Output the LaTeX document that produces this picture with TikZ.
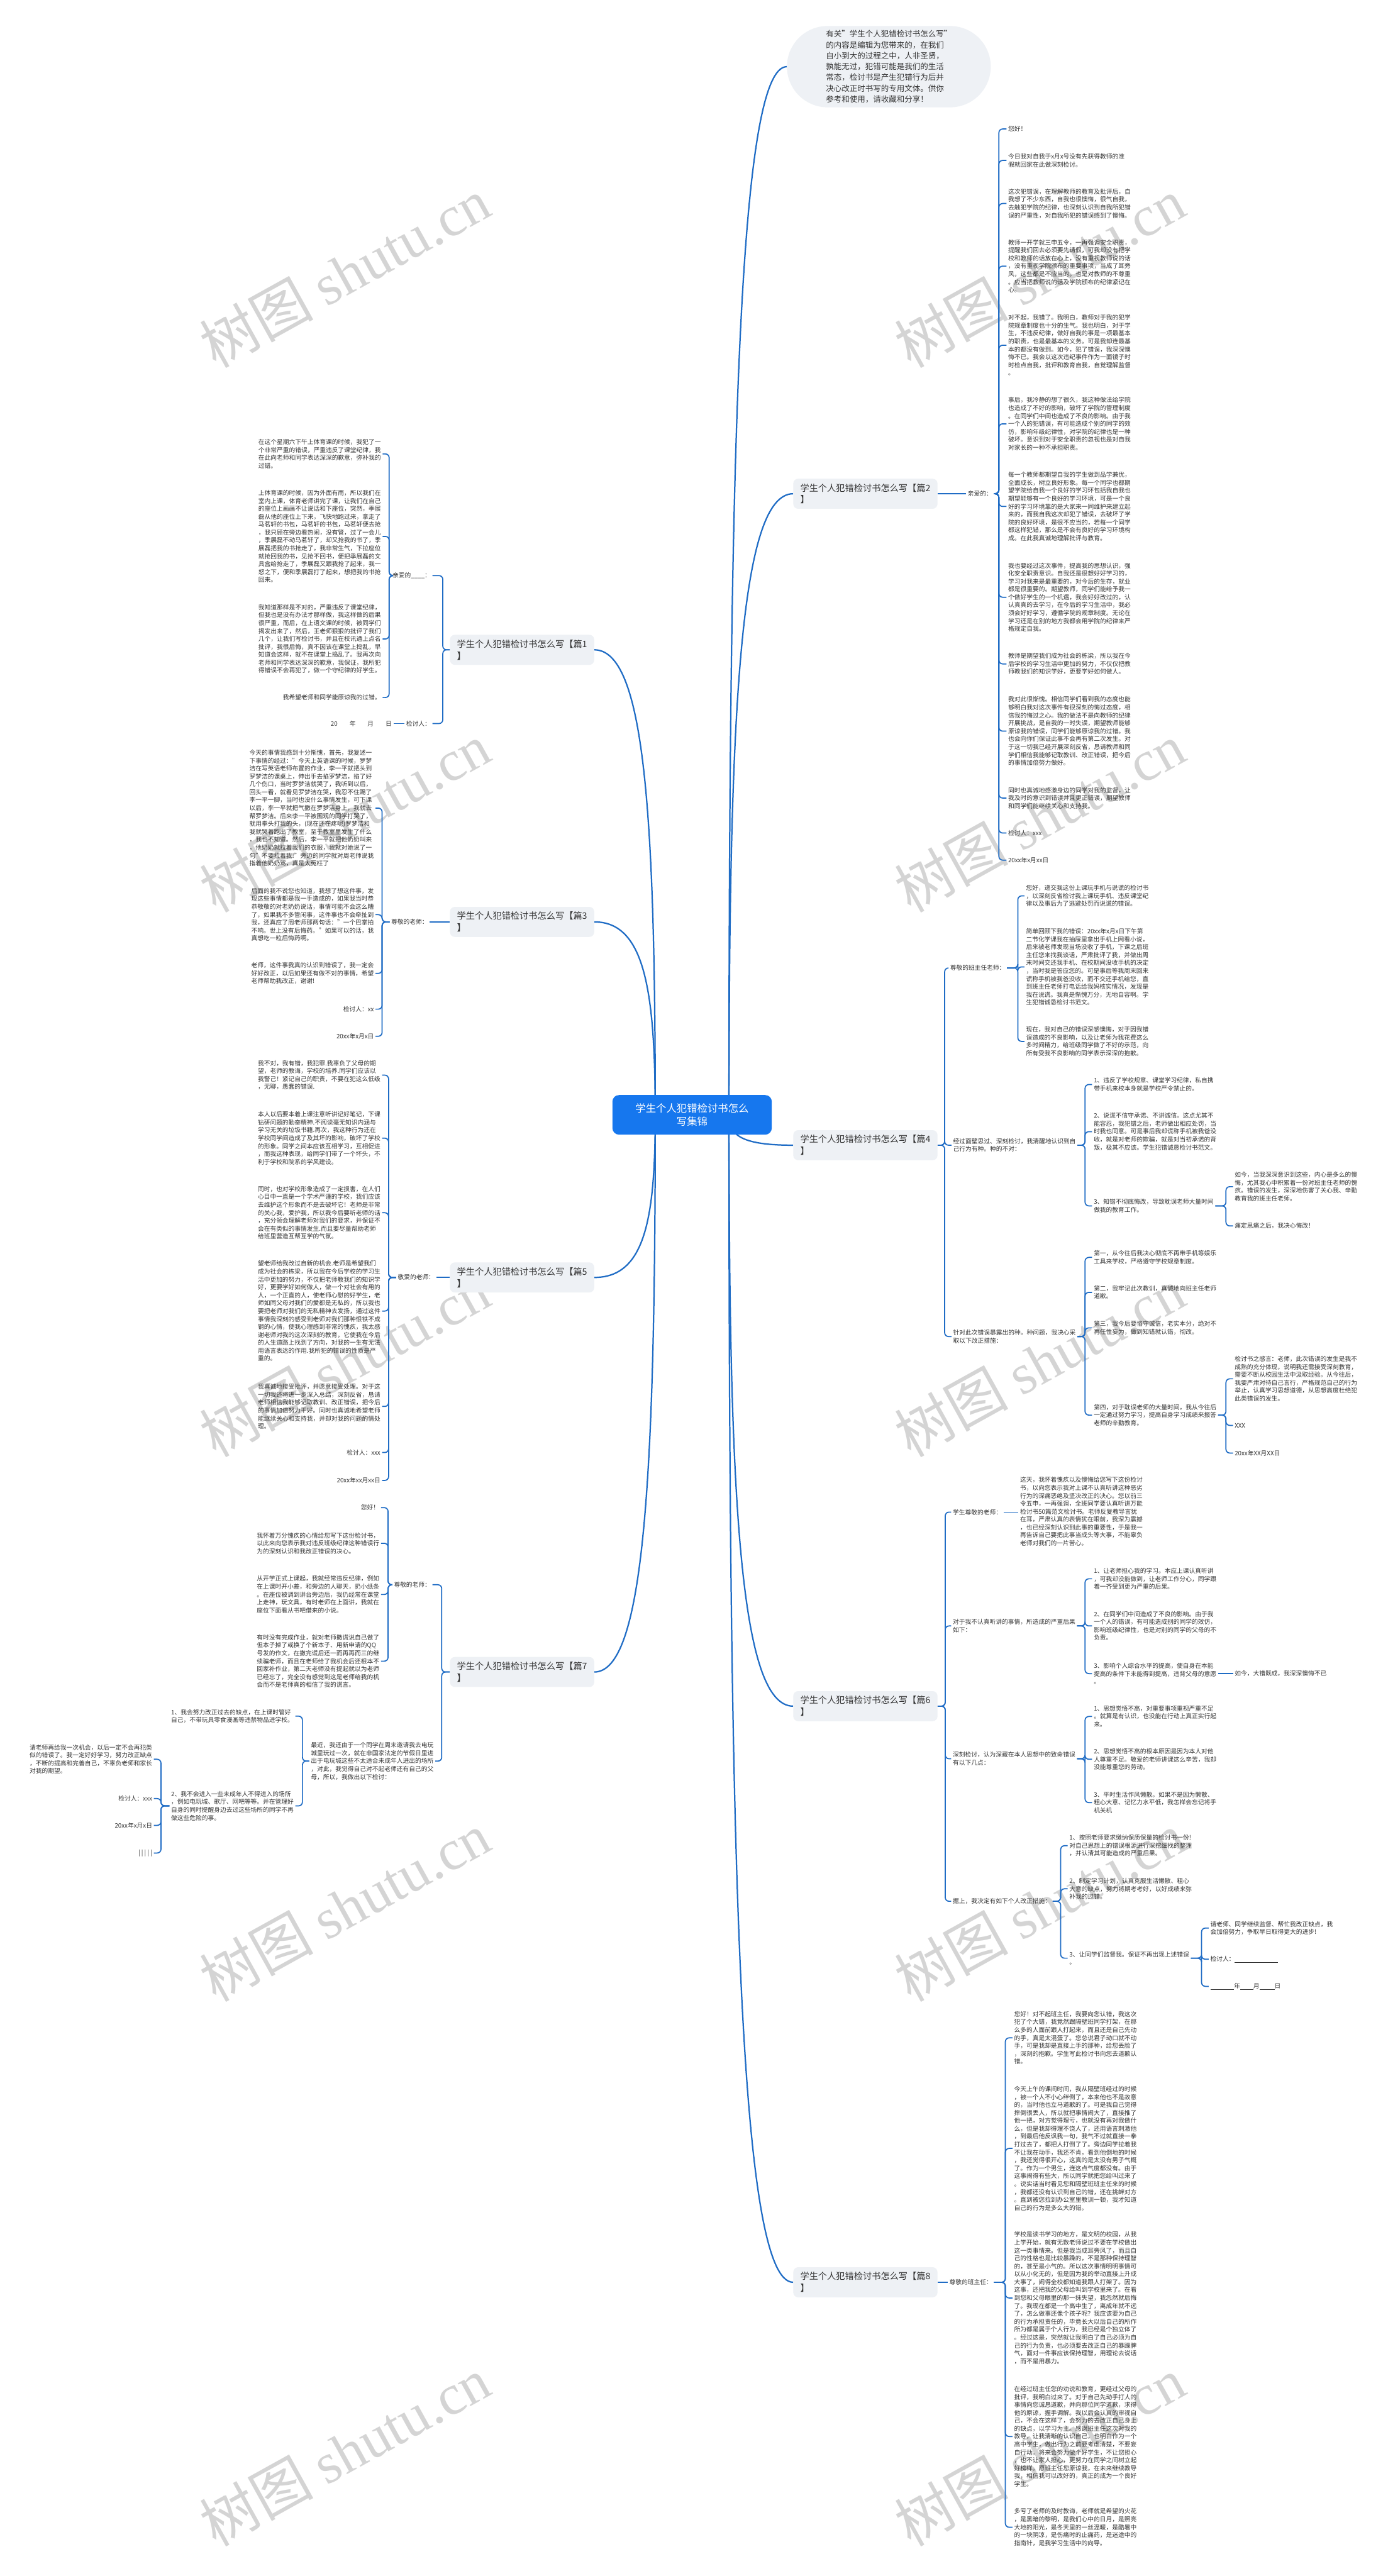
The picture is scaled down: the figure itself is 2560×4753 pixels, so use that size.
\documentclass[tikz,border=0pt]{standalone}
\usepackage{fontspec}
\setmainfont{Noto Sans CJK SC}
\newfontfamily\wmfont{Liberation Serif}
\usetikzlibrary{calc}
\definecolor{lineblue}{HTML}{1F6CC5}
\definecolor{txtc}{HTML}{333333}
\definecolor{lblbg}{HTML}{EEF1F5}
\definecolor{rootblue}{HTML}{1677EE}
\definecolor{wmc}{HTML}{D4D4D4}
\pgfdeclarelayer{wmlayer}
\pgfdeclarelayer{background}
\pgfsetlayers{wmlayer,background,main}
\newcommand\mmR[4]{\node[tr] (#1) at (#2,#3) {#4};}
\newcommand\mmL[4]{\node[tl] (#1) at (#2,#3) {#4};}
\newcommand\brR[3]{\draw[conn] (#1.east) -- (#1.east -| #2) |- (#3.west);}
\newcommand\brL[3]{\draw[conn] (#1.west) -- (#1.west -| #2) |- (#3.east);}
\newcommand\mainR[1]{\draw[mainconn] (cR) .. controls ($(cR)!0.65!(cR|-#1.west)$) and ($(cR|-#1.west)+(20,0)$) .. (#1.west);}
\newcommand\mainL[1]{\draw[mainconn] (cL) .. controls ($(cL)!0.65!(cL|-#1.east)$) and ($(cL|-#1.east)+(-20,0)$) .. (#1.east);}
\begin{document}
\begin{tikzpicture}[x=1pt,y=-1pt,
  conn/.style={draw=lineblue, line width=2pt, rounded corners=7pt},
  mainconn/.style={draw=lineblue, line width=2.6pt},
  txt/.style={font=\fontsize{11.3}{14.6}\selectfont, text=txtc, align=left, inner xsep=3pt, inner ysep=1pt},
  tr/.style={txt, anchor=west},
  tl/.style={txt, anchor=east},
  lbl/.style={fill=lblbg, rounded corners=9pt, font=\fontsize{16.5}{22}\selectfont, text=txtc, align=left, inner xsep=13pt, inner ysep=9pt},
  lblR/.style={lbl, anchor=east},
  lblL/.style={lbl, anchor=west},
  root/.style={fill=rootblue, rounded corners=12pt, text=white, font=\fontsize{19}{24}\selectfont, align=center, minimum width=294pt, minimum height=73pt},
  intro/.style={fill=lblbg, rounded corners=75pt, text=txtc, font=\fontsize{14.5}{20}\selectfont, align=left, minimum width=376pt, minimum height=150pt},
  wm/.style={text=wmc, rotate=29, font=\fontsize{105}{105}\selectfont}
]
\useasboundingbox (0,0) rectangle (2560,4753);
\begin{pgfonlayer}{wmlayer}
\fill[white] (0,0) rectangle (2560,4753);
\foreach \wy in {503,1508,2513,3518,4523}{
  \node[wm] at (636,\wy) {树图 {\wmfont shutu.cn}};
  \node[wm] at (1918,\wy) {树图 {\wmfont shutu.cn}};
}
\end{pgfonlayer}

% ---------- root and intro ----------
\node[root] (root) at (1277,2057) {学生个人犯错检讨书怎么\\写集锦};
\coordinate (cR) at (1345,2057);
\coordinate (cL) at (1209,2057);
\node[intro] (intro) at (1640,123) {有关"学生个人犯错检讨书怎么写"\\的内容是编辑为您带来的，在我们\\自小到大的过程之中，人非圣贤，\\孰能无过，犯错可能是我们的生活\\常态，检讨书是产生犯错行为后并\\决心改正时书写的专用文体。供你\\参考和使用，请收藏和分享！};

% ---------- level 1 labels ----------
\node[lblR] (p2) at (1730,911) {学生个人犯错检讨书怎么写【篇2\\】};
\node[lblR] (p4) at (1730,2113) {学生个人犯错检讨书怎么写【篇4\\】};
\node[lblR] (p6) at (1730,3148) {学生个人犯错检讨书怎么写【篇6\\】};
\node[lblR] (p8) at (1730,4211) {学生个人犯错检讨书怎么写【篇8\\】};
\node[lblL] (q1) at (830,1199) {学生个人犯错检讨书怎么写【篇1\\】};
\node[lblL] (q3) at (830,1701) {学生个人犯错检讨书怎么写【篇3\\】};
\node[lblL] (q5) at (830,2357) {学生个人犯错检讨书怎么写【篇5\\】};
\node[lblL] (q7) at (830,3085) {学生个人犯错检讨书怎么写【篇7\\】};

% ---------- 篇2 ----------
\mmL{a0}{1834}{911}{亲爱的：}
\mmR{a1}{1857}{238}{您好！}
\mmR{a2}{1857}{296}{今日我对自我于x月x号没有先获得教师的准\\假就回家在此做深刻检讨。}
\mmR{a3}{1857}{375.5}{这次犯错误，在理解教师的教育及批评后，自\\我想了不少东西，自我也很懊悔，很气自我，\\去触犯学院的纪律，也深刻认识到自我所犯错\\误的严重性，对自我所犯的错误感到了懊悔。}
\mmR{a4}{1857}{491}{教师一开学就三申五令，一再强调安全职责，\\提醒我们回去必须要先请假，可我却没有把学\\校和教师的话放在心上，没有重视教师说的话\\，没有重视学院颁布的重要事项，当成了耳旁\\风，这些都是不应当的。也是对教师的不尊重\\。应当把教师说的话及学院颁布的纪律紧记在\\心。}
\mmR{a5}{1857}{637}{对不起，我错了。我明白，教师对于我的犯学\\院规章制度也十分的生气。我也明白，对于学\\生，不违反纪律，做好自我的事是一项最基本\\的职责，也是最基本的义务。可是我却连最基\\本的都没有做到。如今，犯了错误，我深深懊\\悔不已。我会以这次违纪事件作为一面镜子时\\时检点自我，批评和教育自我，自觉理解监督\\。}
\mmR{a6}{1857}{782}{事后，我冷静的想了很久，我这种做法给学院\\也造成了不好的影响，破坏了学院的管理制度\\。在同学们中间也造成了不良的影响。由于我\\一个人的犯错误，有可能造成个别的同学的效\\仿，影响年级纪律性，对学院的纪律也是一种\\破坏。意识到对于安全职责的忽视也是对自我\\对家长的一种不承担职责。}
\mmR{a7}{1857}{934.5}{每一个教师都期望自我的学生做到品学兼优，\\全面成长，树立良好形象。每一个同学也都期\\望学院给自我一个良好的学习环包括我自我也\\期望能够有一个良好的学习环境，可是一个良\\好的学习环境靠的是大家来一同维护来建立起\\来的，而我自我这次却犯了错误，去破坏了学\\院的良好环境，是很不应当的，若每一个同学\\都这样犯错，那么是不会有良好的学习环境构\\成。在此我真诚地理解批评与教育。}
\mmR{a8}{1857}{1102}{我也要经过这次事件，提高我的思想认识，强\\化安全职责意识。自我还是很想好好学习的，\\学习对我来是最重要的，对今后的生存，就业\\都是很重要的。期望教师，同学们能给予我一\\个做好学生的一个机遇，我会好好改过的，认\\认真真的去学习，在今后的学习生活中，我必\\须会好好学习，遵循学院的规章制度。无论在\\学习还是在别的地方我都会用学院的纪律来严\\格规定自我。}
\mmR{a9}{1857}{1225}{教师是期望我们成为社会的栋梁，所以我在今\\后学校的学习生活中更加的努力，不仅仅把教\\师教我们的知识学好，更要学好如何做人。}
\mmR{a10}{1857}{1349}{我对此很惭愧。相信同学们看到我的态度也能\\够明白我对这次事件有很深刻的悔过态度，相\\信我的悔过之心。我的做法不是向教师的纪律\\开展挑战，是自我的一时失误，期望教师能够\\原谅我的错误，同学们能够原谅我的过错。我\\也会向你们保证此事不会再有第二次发生。对\\于这一切我已经开展深刻反省，恳请教师和同\\学们相信我能够记取教训、改正错误，把今后\\的事情加倍努力做好。}
\mmR{a11}{1857}{1472.5}{同时也真诚地感激身边的同学对我的监督，让\\我及时的意识到错误并且更正错误，期望教师\\和同学们能继续关心和支持我。}
\mmR{a12}{1857}{1537}{检讨人：xxx}
\mmR{a13}{1857}{1587}{20xx年x月xx日}

% ---------- 篇4 ----------
\mmL{b0}{1858}{1786}{尊敬的班主任老师：}
\mmR{b01}{1890}{1653}{您好，递交我这份上课玩手机与说谎的检讨书\\，以深刻反省检讨我上课玩手机、违反课堂纪\\律以及事后为了逃避处罚而说谎的错误。}
\mmR{b02}{1890}{1784}{简单回顾下我的错误：20xx年x月x日下午第\\二节化学课我在抽屉里拿出手机上网看小说，\\后来被老师发现当场没收了手机，下课之后班\\主任您来找我谈话，严肃批评了我，并做出周\\末时间交还我手机、在校期间没收手机的决定\\，当时我是答应您的。可是事后等我周末回来\\谎称手机被我爸没收，而不交还手机给您，直\\到班主任老师打电话给我妈核实情况，发现是\\我在说谎。我真是惭愧万分，无地自容啊。学\\生犯错诚恳检讨书范文。}
\mmR{b03}{1890}{1921.5}{现在，我对自己的错误深感懊悔，对于因我错\\误造成的不良影响，以及让老师为我花费这么\\多时间精力，给班级同学做了不好的示范，向\\所有受我不良影响的同学表示深深的抱歉。}
\mmL{b1}{1988}{2113}{经过面壁思过、深刻检讨，我清醒地认识到自\\己行为有种。种的不对：}
\mmR{b11}{2015}{2001}{1、违反了学校规章、课堂学习纪律，私自携\\带手机来校本身就是学校严令禁止的。}
\mmR{b12}{2015}{2088}{2、说谎不信守承诺、不讲诚信。这点尤其不\\能容忍，我犯错之后，老师做出相应处罚，当\\时我也同意。可是事后我却谎称手机被我爸没\\收，就是对老师的欺骗，就是对当初承诺的背\\叛，极其不应该。学生犯错诚恳检讨书范文。}
\mmR{b13}{2015}{2225}{3、知错不彻底悔改，导致耽误老师大量时间\\做我的教育工作。}
\mmR{b131}{2275}{2189.5}{如今，当我深深意识到这些，内心是多么的懊\\悔，尤其我心中积累着一份对班主任老师的愧\\疚。错误的发生，深深地伤害了关心我、辛勤\\教育我的班主任老师。}
\mmR{b132}{2275}{2262}{痛定思痛之后，我决心悔改！}
\mmL{b2}{1988}{2466}{针对此次错误暴露出的种。种问题，我决心采\\取以下改正措施：}
\mmR{b21}{2015}{2320}{第一，从今往后我决心彻底不再带手机等娱乐\\工具来学校，严格遵守学校规章制度。}
\mmR{b22}{2015}{2384.5}{第二，我牢记此次教训，真诚地向班主任老师\\道歉。}
\mmR{b23}{2015}{2450}{第三，我今后要恪守诚信，老实本分，绝对不\\再任性妄为，做到知错就认错，彻改。}
\mmR{b24}{2015}{2611}{第四，对于耽误老师的大量时间，我从今往后\\一定通过努力学习，提高自身学习成绩来报答\\老师的辛勤教育。}
\mmR{b241}{2275}{2544}{检讨书之感言：老师，此次错误的发生是我不\\成熟的充分体现，说明我还需接受深刻教育，\\需要不断从校园生活中汲取经验。从今往后，\\我要严肃对待自己言行，严格规范自己的行为\\举止，认真学习思想道德，从思想高度杜绝犯\\此类错误的发生。}
\mmR{b242}{2275}{2630}{XXX}
\mmR{b243}{2275}{2681}{20xx年XX月XX日}

% ---------- 篇6 ----------
\mmR{c0}{1755}{2790}{学生尊敬的老师：}
\mmR{c01}{1879}{2789}{这天，我怀着愧疚以及懊悔给您写下这份检讨\\书，以向您表示我对上课不认真听讲这种恶劣\\行为的深痛恶绝及坚决改正的决心。您以前三\\令五申，一再强调，全班同学要认真听讲万能\\检讨书50篇范文检讨书。老师反复教导言犹\\在耳，严肃认真的表情犹在眼前，我深为震撼\\，也已经深刻认识到此事的重要性，于是我一\\再告诉自己要把此事当成头等大事，不能辜负\\老师对我们的一片苦心。}
\mmR{c1}{1755}{3000}{对于我不认真听讲的事情，所造成的严重后果\\如下：}
\mmR{c11}{2015}{2913}{1、让老师担心我的学习。本应上课认真听讲\\，可我却没能做到，让老师工作分心，同学跟\\着一齐受到更为严重的后果。}
\mmR{c12}{2015}{3000}{2、在同学们中间造成了不良的影响。由于我\\一个人的错误，有可能造成别的同学的效仿，\\影响班级纪律性，也是对别的同学的父母的不\\负责。}
\mmR{c13}{2015}{3088}{3、影响个人综合水平的提高，使自身在本能\\提高的条件下未能得到提高，违背父母的意愿\\。}
\mmR{c131}{2275}{3088}{如今，大错既成，我深深懊悔不已}
\mmR{c2}{1755}{3245}{深刻检讨，认为深藏在本人思想中的致命错误\\有以下几点：}
\mmR{c21}{2015}{3167}{1、思想觉悟不高，对重要事项重视严重不足\\。就算是有认识，也没能在行动上真正实行起\\来。}
\mmR{c22}{2015}{3246}{2、思想觉悟不高的根本原因是因为本人对他\\人尊重不足。敬爱的老师讲课这么辛苦，我却\\没能尊重您的劳动。}
\mmR{c23}{2015}{3326}{3、平时生活作风懒散。如果不是因为懒散、\\粗心大意、记忆力水平低，我怎样会忘记将手\\机关机}
\mmR{c3}{1755}{3508}{据上，我决定有如下个人改正措施：}
\mmR{c31}{1970}{3405.5}{1、按照老师要求缴纳保质保量的检讨书一份!\\对自己思想上的错误根源进行深挖细找的整理\\，并认清其可能造成的严重后果。}
\mmR{c32}{1970}{3485}{2、制定学习计划，认真克服生活懒散、粗心\\大意的缺点，努力将期考考好，以好成绩来弥\\补我的过错。}
\mmR{c33}{1970}{3613}{3、让同学们监督我。保证不再出现上述错误\\。}
\mmR{c331}{2230}{3557.5}{请老师、同学继续监督、帮忙我改正缺点，我\\会加倍努力，争取早日取得更大的进步!}
\mmR{c332}{2230}{3615}{检讨人：\rule[-1.5pt]{80pt}{0.7pt}}
\mmR{c333}{2230}{3665}{\rule[-1.5pt]{44pt}{0.7pt}年\rule[-1.5pt]{24pt}{0.7pt}月\rule[-1.5pt]{28pt}{0.7pt}日}

% ---------- 篇8 ----------
\mmL{d0}{1834}{4211}{尊敬的班主任：}
\mmR{d1}{1868}{3760}{您好！对不起班主任，我要向您认错，我这次\\犯了个大错，我竟然跟隔壁班同学打架，在那\\么多的人面前跟人打起来，而且还是自己先动\\的手，真是太混蛋了。您总说君子动口就不动\\手，可是我却是直接上手的那种，给您丢脸了\\，深刻的抱歉。学生写此检讨书向您去道歉认\\错。}
\mmR{d2}{1868}{3964}{今天上午的课间时间，我从隔壁班经过的时候\\，被一个人不小心绊倒了，本来他也不是故意\\的，当时他也立马道歉的了。可是我自己觉得\\摔倒很丢人，所以就把事情闹大了，直接推了\\他一把，对方觉得理亏，也就没有再对我做什\\么，但是我却得理不饶人了，还用语言刺激他\\，到最后他反讽我一句，我气不过就直接一拳\\打过去了，都把人打倒了了。旁边同学拉着我\\不让我在动手，我还不肯，看到他倒地的时候\\，我还觉得很开心，这真的是太没有男子气概\\了。作为一个男生，连这点气度都没有。由于\\这事闹得有些大，所以同学就把您给叫过来了\\。说实话当时看见您和隔壁班班主任来的时候\\，我都还没有认识到自己的错，还在挑衅对方\\。直到被您拉到办公室里教训一顿，我才知道\\自己的行为是多么大的错。}
\mmR{d3}{1868}{4240}{学校是读书学习的地方，是文明的校园，从我\\上学开始，就有无数老师说过不要在学校做出\\这一类事情来。但是我当成耳旁风了，而且自\\己的性格也是比较暴躁的，不是那种保持理智\\的，甚至是小气的。所以这次事情明明事情可\\以从小化无的，但是因为我的举动直接上升成\\大事了，闹得全校都知道我跟人打架了。因为\\这事，还把我的父母给叫到学校里来了。在看\\到您和父母眼里的那一抹失望，我忽然就后悔\\了。我现在都是一个高中生了，离成年就不远\\了，怎么做事还像个孩子呢？我应该要为自己\\的行为承担责任的，毕竟长大以后自己的所作\\所为都是属于个人行为，我已经是个独立体了\\。经过这是，突然就让我明白了自己必须为自\\己的行为负责，也必须要去改正自己的暴躁脾\\气，面对一件事应该保持理智，用理论去说话\\，而不是用暴力。}
\mmR{d4}{1868}{4495.6}{在经过班主任您的劝说和教育，更经过父母的\\批评，我明白过来了。对于自己先动手打人的\\事情向您诚恳道歉，并向那位同学道歉，求得\\他的原谅，握手调解。我以后会认真的审视自\\己，不会在这样了，会努力的去改正自己身上\\的缺点，以学习为主。感谢班主任这次对我的\\教导，让我清晰的认识自己，也明白作为一个\\高中学生，做出行为之前要考虑清楚，不要妄\\自行动。将来会努力做个好学生，不让您担心\\，也不让家人担心，更努力在同学之间树立起\\好榜样。愿班主任您原谅我，在未来继续教导\\我，相信我可以改好的，真正的成为一个良好\\学生。}
\mmR{d5}{1868}{4663}{多亏了老师的及时教诲，老师就是希望的火花\\，是黑暗的黎明，是我们心中的日月，是照亮\\大地的阳光，是冬天里的一丝温暖，是酷暑中\\的一块阴凉，是伤痛时的止痛药，是迷途中的\\指南针，是我学习生活中的向导。}

% ---------- 篇1 ----------
\mmL{e0}{798}{1062}{亲爱的\_\_\_\_：}
\mmL{e01}{706}{837.5}{在这个星期六下午上体育课的时候，我犯了一\\个非常严重的错误，严重违反了课堂纪律，我\\在此向老师和同学表达深深的歉意，弥补我的\\过错。}
\mmL{e02}{706}{989.7}{上体育课的时候，因为外面有雨，所以我们在\\室内上课，体育老师讲完了课，让我们在自己\\的座位上画画不让说话和下座位，突然，季展\\磊从他的座位上下来，飞快地跑过来，拿走了\\马茗轩的书包，马茗轩的书包，马茗轩便去抢\\，我只顾在旁边看热闹，没有管，过了一会儿\\，季展磊不动马茗轩了，却又抢我的书了，季\\展磊把我的书抢走了，我非常生气，下拉座位\\就抢回我的书，见抢不回书，便把季展磊的文\\具盒给抢走了，季展磊又跟我抢了起来，我一\\怒之下，便和季展磊打了起来，想把我的书抢\\回来。}
\mmL{e03}{706}{1179}{我知道那样是不对的，严重违反了课堂纪律，\\但我也是没有办法才那样做，我这样做的后果\\很严重，而后，在上语文课的时候，被同学们\\揭发出来了，然后，王老师狠狠的批评了我们\\几个，让我们写检讨书，并且在校讯通上点名\\批评，我很后悔，真不因该在课堂上捣乱，早\\知道会这样，就不在课堂上捣乱了。我再次向\\老师和同学表达深深的歉意，我保证，我所犯\\得错误不会再犯了，做一个守纪律的好学生。}
\mmL{e04}{706}{1287}{我希望老师和同学能原谅我的过错。}
\mmL{e1}{798}{1335}{检讨人：}
\mmL{e11}{726}{1335}{20\hspace{22pt}年\hspace{22pt}月\hspace{22pt}日}

% ---------- 篇3 ----------
\mmL{f0}{793}{1701}{尊敬的老师：}
\mmL{f1}{693}{1491}{今天的事情我感到十分惭愧，首先，我复述一\\下事情的经过："今天上英语课的时候，罗梦\\洁在写英语老师布置的作业，李一平就把头到\\罗梦洁的课桌上，伸出手去掐罗梦洁，掐了好\\几个伤口，当时罗梦洁就哭了，我听到以后，\\回头一看，就看见罗梦洁在哭，我忍不住踢了\\李一平一脚，当时也没什么事情发生，可下课\\以后，李一平就把气撒在罗梦洁身上，我就去\\帮罗梦洁。后来李一平被围观的同学打哭了，\\就用拳头打我的头，(现在还在疼呢)罗梦洁和\\我就哭着跑出了教室，至于教室里发生了什么\\，我也不知道。然后，李一平就把他奶奶叫来\\，他奶奶就拉着我们的衣服，我就对她说了一\\句"不要拉着我!"旁边的同学就对周老师说我\\指着他奶奶骂，真是太冤枉了}
\mmL{f2}{693}{1687.6}{后面的我不说您也知道，我想了想这件事，发\\现这些事情都是我一手造成的，如果我当时恭\\恭敬敬的对老奶奶说话，事情可能不会这么糟\\了，如果我不多管闲事，这件事也不会牵扯到\\我，还真应了周老师那两句话："一个巴掌拍\\不响。世上没有后悔药。"如果可以的话，我\\真想吃一粒后悔药啊。}
\mmL{f3}{693}{1796}{老师，这件事我真的认识到错误了，我一定会\\好好改正，以后如果还有做不对的事情，希望\\老师帮助我改正，谢谢!}
\mmL{f4}{693}{1862}{检讨人：xx}
\mmL{f5}{693}{1912}{20xx年x月x日}

% ---------- 篇5 ----------
\mmL{g0}{805}{2357}{敬爱的老师：}
\mmL{g1}{705}{1983.7}{我不对，我有错，我犯罪.我辜负了父母的期\\望，老师的教诲，学校的培养.同学们应该以\\我警己！紧记自己的职责，不要在犯这么低级\\，无聊，愚蠢的错误.}
\mmL{g2}{705}{2100}{本人以后要本着上课注意听讲记好笔记，下课\\钻研问题的勤奋精神.不阅读毫无知识内涵与\\学习无关的垃圾书籍.再次，我这种行为还在\\学校同学间造成了及其坏的影响，破坏了学校\\的形象。同学之间本应该互相学习，互相促进\\，而我这种表现，给同学们带了一个坏头，不\\利于学校和院系的学风建设。}
\mmL{g3}{705}{2237.6}{同时，也对学校形象造成了一定损害，在人们\\心目中一直是一个学术严谨的学校，我们应该\\去维护这个形象而不是去破坏它！老师是非常\\的关心我，爱护我，所以我今后要听老师的话\\，充分领会理解老师对我们的要求，并保证不\\会在有类似的事情发生.而且要尽量帮助老师\\给班里营造互帮互学的气氛。}
\mmL{g4}{705}{2419}{望老师给我改过自新的机会.老师是希望我们\\成为社会的栋梁，所以我在今后学校的学习生\\活中更加的努力，不仅把老师教我们的知识学\\好，更要学好如何做人，做一个对社会有用的\\人，一个正直的人，使老师心慰的好学生，老\\师如同父母对我们的爱都是无私的，所以我也\\要把老师对我们的无私精神去发扬，通过这件\\事情我深刻的感受到老师对我们那种恨铁不成\\钢的心情，使我心理感到非常的愧疚，我太感\\谢老师对我的这次深刻的教育，它使我在今后\\的人生道路上找到了方向，对我的一生有无法\\用语言表达的作用.我所犯的错误的性质是严\\重的。}
\mmL{g5}{705}{2595}{我真诚地接受批评，并愿意接受处理。对于这\\一切我还将进一步深入总结，深刻反省，恳请\\老师相信我能够记取教训、改正错误，把今后\\的事情加倍努力干好。同时也真诚地希望老师\\能继续关心和支持我，并却对我的问题酌情处\\理。}
\mmL{g6}{705}{2680}{检讨人：xxx}
\mmL{g7}{705}{2731.5}{20xx年xx月xx日}

% ---------- 篇7 ----------
\mmL{h0}{798}{2924}{尊敬的老师：}
\mmL{h01}{703}{2781.7}{您好！}
\mmL{h02}{703}{2847.5}{我怀着万分愧疚的心情给您写下这份检讨书，\\以此来向您表示我对违反班级纪律这种错误行\\为的深刻认识和我改正错误的决心。}
\mmL{h03}{703}{2942}{从开学正式上课起，我就经常违反纪律，例如\\在上课时开小差，和旁边的人聊天，扔小纸条\\。在座位被调到讲台旁边后，我仍经常在课堂\\上走神，玩文具，有时老师在上面讲，我就在\\座位下面看从书吧借来的小说。}
\mmL{h04}{703}{3065}{有时没有完成作业，就对老师撒谎说自己做了\\但本子掉了或换了个新本子、用新申请的QQ\\号发的作文，在撒完谎后还一而再再而三的继\\续骗老师，而且在老师给了我机会后还根本不\\回家补作业，第二天老师没有提起就以为老师\\已经忘了，完全没有感觉到这是老师给我的机\\会而不是老师真的相信了我的谎言。}
\mmL{h1}{803}{3249.4}{最近，我还由于一个同学在周末邀请我去电玩\\城里玩过一次，就在非国家法定的节假日里进\\出于电玩城这些不太适合未成年人进出的场所\\，对此，我觉得自己对不起老师还有自己的父\\母，所以，我做出以下检讨：}
\mmL{h11}{545}{3166.5}{1、我会努力改正过去的缺点，在上课时管好\\自己，不带玩具零食漫画等违禁物品进学校。}
\mmL{h12}{545}{3332}{2、我不会进入一些未成年人不得进入的场所\\，例如电玩城、歌厅、网吧等等。并在管理好\\自身的同时提醒身边去过这些场所的同学不再\\做这些危险的事。}
\mmL{h121}{284}{3246}{请老师再给我一次机会，以后一定不会再犯类\\似的错误了。我一定好好学习，努力改正缺点\\，不断的提高和完善自己，不辜负老师和家长\\对我的期望。}
\mmL{h122}{284}{3318.5}{检讨人：xxx}
\mmL{h123}{284}{3368}{20xx年x月x日}
\mmL{h124}{284}{3419}{| | | | |}

% ---------- spines ----------
\coordinate (sA2) at (1843,0);
\coordinate (sB) at (1743,0);
\coordinate (sB0) at (1878,0);
\coordinate (sB1) at (2002,0);
\coordinate (sB13) at (2262,0);
\coordinate (sC) at (1744,0);
\coordinate (sC1) at (2002,0);
\coordinate (sC3) at (1957,0);
\coordinate (sC33) at (2217,0);
\coordinate (sD0) at (1855,0);
\coordinate (sE) at (817,0);
\coordinate (sE0) at (718,0);
\coordinate (sF) at (812,0);
\coordinate (sF0) at (705,0);
\coordinate (sG0) at (717,0);
\coordinate (sH) at (815,0);
\coordinate (sH0) at (716,0);
\coordinate (sH1) at (558,0);
\coordinate (sH12) at (297,0);

\begin{pgfonlayer}{background}
% main connectors
\mainR{intro}
\mainR{p2}
\mainR{p4}
\mainR{p6}
\mainR{p8}
\mainL{q1}
\mainL{q3}
\mainL{q5}
\mainL{q7}
% 篇2
\draw[conn] (p2.east) -- (a0.west);
\foreach \c in {a1,a2,a3,a4,a5,a6,a7,a8,a9,a10,a11,a12,a13}{\brR{a0}{sA2}{\c}}
% 篇4
\foreach \c in {b0,b1,b2}{\brR{p4}{sB}{\c}}
\foreach \c in {b01,b02,b03}{\brR{b0}{sB0}{\c}}
\foreach \c in {b11,b12,b13}{\brR{b1}{sB1}{\c}}
\foreach \c in {b131,b132}{\brR{b13}{sB13}{\c}}
\foreach \c in {b21,b22,b23,b24}{\brR{b2}{sB1}{\c}}
\foreach \c in {b241,b242,b243}{\brR{b24}{sB13}{\c}}
% 篇6
\foreach \c in {c0,c1,c2,c3}{\brR{p6}{sC}{\c}}
\draw[conn] (c0.east) -- (c0.east -| c01.west);
\foreach \c in {c11,c12,c13}{\brR{c1}{sC1}{\c}}
\draw[conn] (c13.east) -- (c13.east -| c131.west);
\foreach \c in {c21,c22,c23}{\brR{c2}{sC1}{\c}}
\foreach \c in {c31,c32,c33}{\brR{c3}{sC3}{\c}}
\foreach \c in {c331,c332,c333}{\brR{c33}{sC33}{\c}}
% 篇8
\draw[conn] (p8.east) -- (d0.west);
\foreach \c in {d1,d2,d3,d4,d5}{\brR{d0}{sD0}{\c}}
% 篇1
\foreach \c in {e0,e1}{\brL{q1}{sE}{\c}}
\foreach \c in {e01,e02,e03,e04}{\brL{e0}{sE0}{\c}}
\draw[conn] (e1.west) -- (e11.east);
% 篇3
\draw[conn] (q3.west) -- (f0.east);
\foreach \c in {f1,f2,f3,f4,f5}{\brL{f0}{sF0}{\c}}
% 篇5
\draw[conn] (q5.west) -- (g0.east);
\foreach \c in {g1,g2,g3,g4,g5,g6,g7}{\brL{g0}{sG0}{\c}}
% 篇7
\foreach \c in {h0,h1}{\brL{q7}{sH}{\c}}
\foreach \c in {h01,h02,h03,h04}{\brL{h0}{sH0}{\c}}
\foreach \c in {h11,h12}{\brL{h1}{sH1}{\c}}
\foreach \c in {h121,h122,h123,h124}{\brL{h12}{sH12}{\c}}
\end{pgfonlayer}
\end{tikzpicture}
\end{document}
